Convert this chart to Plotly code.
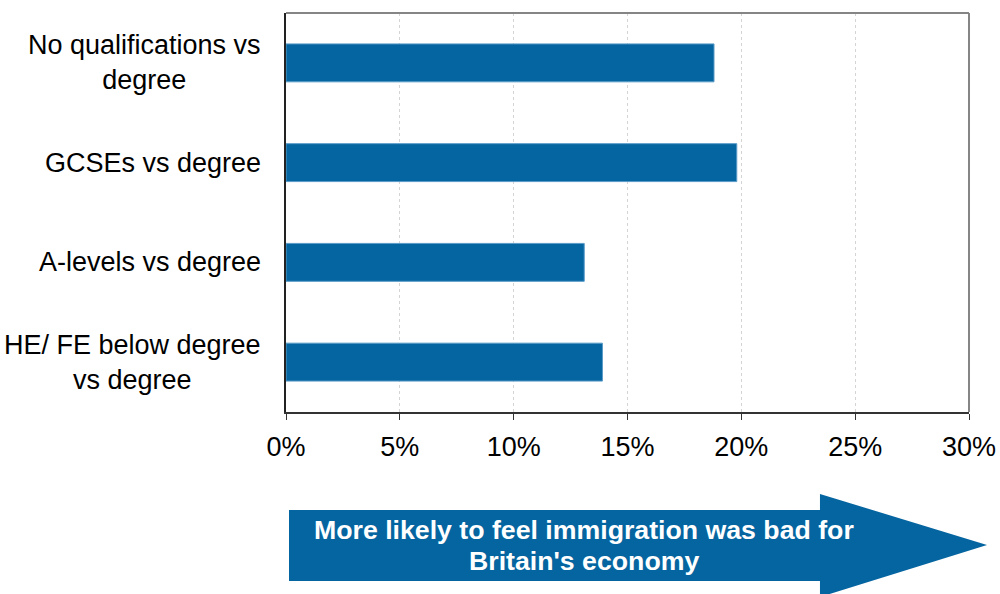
import plotly.graph_objects as go

categories = ["No qualifications vs<br>degree", "GCSEs vs degree", "A-levels vs degree",
              "HE/ FE below degree<br>vs degree"]
values = [18.8, 19.8, 13.1, 13.9]
x_ticks = [0, 5, 10, 15, 20, 25, 30]
x_tick_labels = ["0%", "5%", "10%", "15%", "20%", "25%", "30%"]
arrow_text = ["More likely to feel immigration was bad for", "Britain's economy"]

BLUE = "#0565a0"
FONT = "Liberation Sans, Arial, sans-serif"
FS = 27

fig = go.Figure()
fig.add_trace(go.Bar(
    x=values, y=categories, orientation="h",
    marker=dict(color=BLUE, line=dict(color="#5a9bc8", width=1)),
    width=0.38,
))

L, R, T, B = 286, 31, 13, 182
W, H = 1000, 594
pw, ph = W - L - R, H - T - B

def px(x):
    return (x - L) / pw

def py(y):
    return (H - B - y) / ph

# arrow shape (paper coords from pixel positions)
pts = [(289, 510), (820, 510), (820, 494), (987, 545), (820, 597), (820, 581), (289, 581)]
path = "M " + " L ".join(f"{px(a):.4f},{py(b):.4f}" for a, b in pts) + " Z"
shapes = [
    dict(type="path", xref="paper", yref="paper", path=path,
         fillcolor=BLUE, line=dict(width=0), layer="above"),
    dict(type="line", xref="paper", yref="paper", x0=0, x1=1, y0=1, y1=1,
         line=dict(color="#858585", width=2)),
    dict(type="line", xref="paper", yref="paper", x0=1, x1=1, y0=0, y1=1,
         line=dict(color="#858585", width=2)),
]

annotations = []
for i, t in enumerate(arrow_text):
    annotations.append(dict(
        xref="paper", yref="paper", x=px(584), y=py(530 + 31 * i), text=f"<b>{t}</b>",
        showarrow=False, font=dict(family=FONT, size=26.7, color="white"),
        xanchor="center", yanchor="middle"))

# category labels: centred multi-line text, right edge near the axis
for cat in categories:
    annotations.append(dict(
        xref="paper", yref="y", x=0, y=cat, xshift=-23,
        text=cat, showarrow=False, xanchor="right", yanchor="middle",
        font=dict(family=FONT, size=FS, color="black"), align="center"))

fig.update_layout(
    width=W, height=H,
    margin=dict(l=L, r=R, t=T, b=B, autoexpand=False),
    plot_bgcolor="white", paper_bgcolor="white",
    showlegend=False,
    shapes=shapes, annotations=annotations,
    font=dict(family=FONT, size=FS, color="black"),
    xaxis=dict(range=[0, 30], tickvals=x_ticks, ticktext=x_tick_labels,
               showgrid=True, gridcolor="#d4d4d4", griddash="dot", gridwidth=1,
               showline=True, linecolor="#333333", linewidth=2,
               ticks="outside", ticklen=6, tickcolor="#333333", tickwidth=1,
               zeroline=False, fixedrange=True, automargin=False,
               ticklabelstandoff=4,
               tickfont=dict(family=FONT, size=FS, color="black")),
    yaxis=dict(categoryorder="array", categoryarray=categories, autorange="reversed",
               showgrid=False, showline=True, linecolor="#222222", linewidth=2,
               ticks="", showticklabels=False, zeroline=False, automargin=False),
)

fig.write_html("out.html")
